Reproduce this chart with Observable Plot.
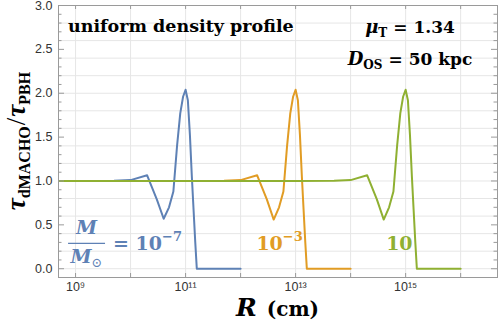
<!DOCTYPE html>
<html><head><meta charset="utf-8">
<script src="https://cdn.jsdelivr.net/npm/d3@7"></script>
<script src="https://cdn.jsdelivr.net/npm/@observablehq/plot@0.6"></script>
<style>body{margin:0;background:#fff} svg{display:block}</style>
</head><body><div id="chart"></div>
<script>
// ---- data ----
const R_blue = [5e8, 1e9, 5e9, 1e10, 2e10, 3e10, 4e10, 5e10, 6e10, 7e10, 8e10, 9e10, 1e11, 1.1e11, 1.2e11, 1.3e11, 1.4e11, 1.5e11, 1.6e11, 1e12];
const ratio_blue = [1.0, 1.0, 1.004, 1.01, 1.065, 0.79, 0.57, 0.70, 0.88, 1.40, 1.77, 1.96, 2.04, 1.92, 1.52, 1.05, 0.66, 0.30, 0.0, 0.0];
const R_orange = [5e8, 1e10, 1e11, 5e11, 1e12, 2e12, 3e12, 4e12, 5e12, 6e12, 7e12, 8e12, 9e12, 1e13, 1.1e13, 1.2e13, 1.3e13, 1.4e13, 1.5e13, 1.6e13, 1e14];
const ratio_orange = [1.0, 1.0, 1.0, 1.004, 1.01, 1.065, 0.79, 0.56, 0.70, 0.88, 1.40, 1.77, 1.96, 2.04, 1.92, 1.52, 1.05, 0.66, 0.30, 0.0, 0.0];
const R_green = [5e8, 1e10, 1e12, 1e13, 5e13, 1e14, 2e14, 3e14, 4e14, 5e14, 6e14, 7e14, 8e14, 9e14, 1e15, 1.1e15, 1.2e15, 1.3e15, 1.4e15, 1.5e15, 1.6e15, 1e16];
const ratio_green = [1.0, 1.0, 1.0, 1.0, 1.004, 1.01, 1.065, 0.79, 0.56, 0.70, 0.88, 1.40, 1.77, 1.96, 2.04, 1.92, 1.52, 1.05, 0.66, 0.30, 0.0, 0.0];

const xLabelTicks = [1e9, 1e11, 1e13, 1e15];
const xLabelText = ["10⁹", "10¹¹", "10¹³", "10¹⁵"];
const xDecades = [1e9, 1e10, 1e11, 1e12, 1e13, 1e14, 1e15, 1e16];
const yLabelTicks = [0, 0.5, 1, 1.5, 2, 2.5, 3];
const yMinorTicks = [0.1,0.2,0.3,0.4,0.6,0.7,0.8,0.9,1.1,1.2,1.3,1.4,1.6,1.7,1.8,1.9,2.1,2.2,2.3,2.4,2.6,2.7,2.8,2.9];
const yGrid = [0,0.2,0.4,0.6,0.8,1.0,1.2,1.4,1.6,1.8,2.0,2.2,2.4,2.6,2.8];

const colors = {blue: "#5E81B5", orange: "#E19C24", green: "#8FB032"};
const toRows = (Rs, vs) => Rs.map((R, i) => ({R, ratio: vs[i]}));

const W = 498, H = 332, mL = 58, mR = 1, mT = 5, mB = 55;
const iW = W - mL - mR, iH = H - mT - mB;
const frameCol = "#9a9a9a", gridCol = "#e6e6e6";

const chart = Plot.plot({
  width: W, height: H,
  marginLeft: mL, marginRight: mR, marginTop: mT, marginBottom: mB,
  x: {type: "log", domain: [10 ** 8.69, 10 ** 16.67], axis: null},
  y: {domain: [-0.1, 3.0], axis: null},
  style: {fontFamily: "'Liberation Sans', Arial, sans-serif", background: "#fff"},
  marks: [
    Plot.ruleX(xDecades, {x: d => d, stroke: gridCol, strokeWidth: 1}),
    Plot.ruleY(yGrid, {y: d => d, stroke: gridCol, strokeWidth: 1}),
    Plot.line(toRows(R_blue, ratio_blue), {x: "R", y: "ratio", stroke: colors.blue, strokeWidth: 2}),
    Plot.line(toRows(R_orange, ratio_orange), {x: "R", y: "ratio", stroke: colors.orange, strokeWidth: 2}),
    Plot.line(toRows(R_green, ratio_green), {x: "R", y: "ratio", stroke: colors.green, strokeWidth: 2}),
    // ticks (inward)
    Plot.ruleY(yLabelTicks, {y: d => d, insetRight: iW - 6, stroke: frameCol}),
    Plot.ruleY(yMinorTicks, {y: d => d, insetRight: iW - 3.5, stroke: frameCol}),
    Plot.ruleY(yLabelTicks, {y: d => d, insetLeft: iW - 6, stroke: frameCol}),
    Plot.ruleY(yMinorTicks, {y: d => d, insetLeft: iW - 3.5, stroke: frameCol}),
    Plot.ruleX(xDecades, {x: d => d, insetTop: iH - 4, stroke: frameCol}),
    Plot.ruleX(xDecades, {x: d => d, insetBottom: iH - 4, stroke: frameCol}),
    Plot.frame({stroke: frameCol}),
    // tick labels
    Plot.text(yLabelTicks, {y: d => d, frameAnchor: "left", text: d => d3.format(".1f")(d), textAnchor: "end", dx: -6, fontSize: 12.5, fill: "#333"}),
    Plot.text(xLabelTicks, {x: d => d, frameAnchor: "bottom", text: (d, i) => xLabelText[i], lineAnchor: "top", dy: 5, fontSize: 12.5, fill: "#333"})
  ]
});
document.getElementById("chart").appendChild(chart);

// ---- math-style text annotations ----
const xs = chart.scale("x"), ys = chart.scale("y");
const svg = d3.select(chart);
const ann = svg.append("g").attr("font-family", "'DejaVu Serif', serif").attr("font-weight", "bold");

function mtext(x, y, segs, {anchor = "start", size = 16, fill = "#000", rotate = 0, family = null} = {}) {
  const t = ann.append("text").attr("x", x).attr("y", y).attr("text-anchor", anchor)
    .attr("font-size", size).attr("fill", fill);
  if (family) t.attr("font-family", family);
  if (rotate) t.attr("transform", `rotate(${rotate},${x},${y})`);
  let shift = 0;
  for (const s of segs) {
    const ts = t.append("tspan").text(s.t);
    const b = s.b || 0;
    if (b - shift) ts.attr("dy", b - shift);
    shift = b;
    if (s.dx) ts.attr("dx", s.dx);
    if (s.s) ts.attr("font-size", s.s);
    if (s.i) ts.attr("font-style", "italic");
    if (s.w) ts.attr("font-weight", s.w);
  }
  return t;
}

// header texts
mtext(68, 32, [{t: "uniform density profile"}], {size: 17.5});
mtext(410, 32.5, [{t: "μ", i: true, s: 18}, {t: "T", s: 12, b: 4}, {t: "= 1.34", b: 0, dx: 6}], {anchor: "middle", size: 17});
mtext(410, 64.5, [{t: "D", i: true, s: 18}, {t: "OS", s: 12, b: 4}, {t: "= 50 kpc", b: 0, dx: 6}], {anchor: "middle", size: 17});

// series labels (anchored in data coordinates)
const X = lr => xs.apply(10 ** lr), Y = v => ys.apply(v);
mtext(X(9.209), Y(0.39), [{t: "M", i: true}], {anchor: "middle", size: 19, fill: colors.blue});
ann.append("line").attr("x1", X(8.873)).attr("x2", X(9.545)).attr("y1", Y(0.284)).attr("y2", Y(0.284))
  .attr("stroke", colors.blue).attr("stroke-width", 1.3);
mtext(X(9.209), Y(0.06), [{t: "M", i: true}, {t: "⊙", s: 13, b: 4, w: "normal"}], {anchor: "middle", size: 19, fill: colors.blue});
mtext(X(9.691), Y(0.207), [{t: "= 10"}, {t: "−7", s: 13, b: -9}], {size: 19, fill: colors.blue});
mtext(X(12.296), Y(0.207), [{t: "10"}, {t: "−3", s: 13, b: -9}], {size: 19, fill: colors.orange});
mtext(X(14.655), Y(0.207), [{t: "10"}], {size: 19, fill: colors.green});

// axis labels
mtext((mL + W - mR) / 2, 315.5, [{t: "R", i: true, s: 25}, {t: "(cm)", dx: 10, s: 20}], {anchor: "middle", size: 20});
mtext(25, mT + iH / 2, [{t: "τ", i: true, s: 27}, {t: "dMACHO", s: 16, b: 5}, {t: "/", s: 27, w: "normal", b: 0, dx: 1}, {t: "τ", i: true, s: 27, dx: 1}, {t: "PBH", s: 16, b: 5}],
  {anchor: "middle", rotate: -90, size: 20, family: "'Liberation Serif', 'Times New Roman', serif"});
</script>
</body></html>
